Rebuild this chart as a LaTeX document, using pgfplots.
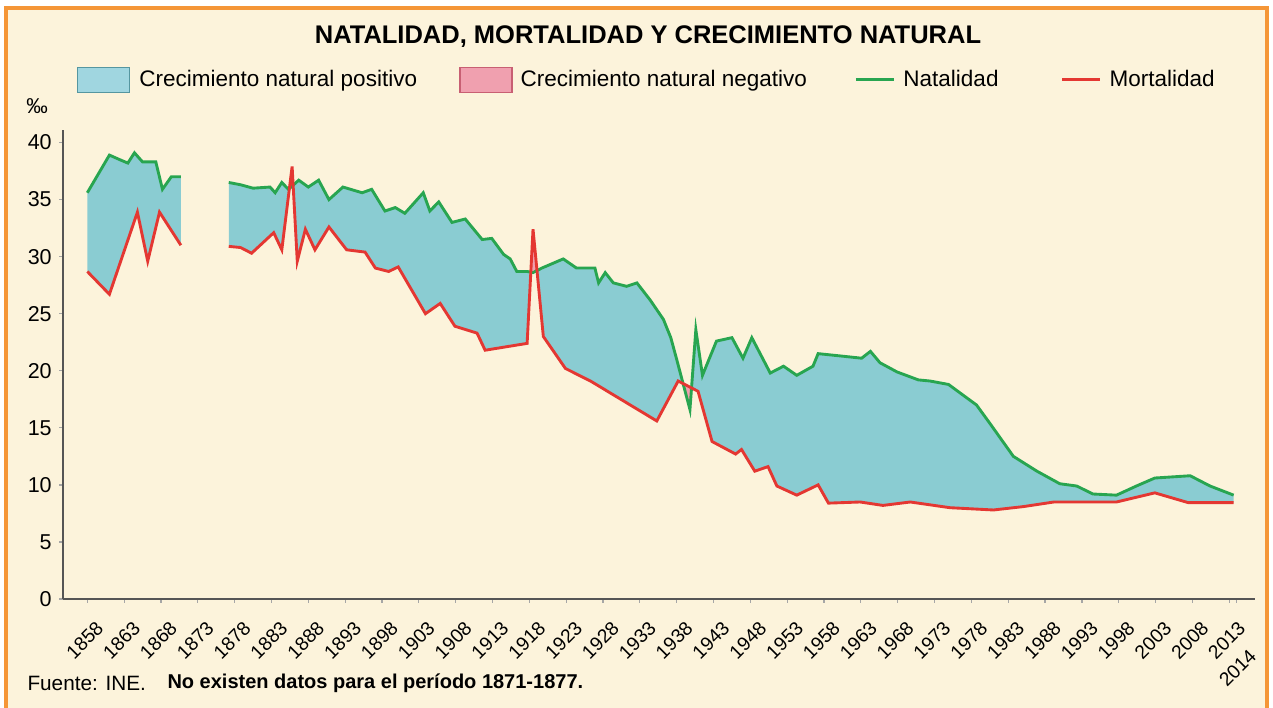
\documentclass[border=0pt]{standalone}
\usepackage{pgfplots}
\pgfplotsset{compat=1.18}
\usepgfplotslibrary{fillbetween}
\usepackage{pgfplotstable}
\usepackage{fontspec}
\setmainfont{Liberation Sans}

\definecolor{bgcream}{RGB}{252,243,219}
\definecolor{frameorange}{RGB}{245,150,55}
\definecolor{natgreen}{RGB}{40,165,80}
\definecolor{morred}{RGB}{228,55,50}
\definecolor{posfill}{RGB}{138,204,210}
\definecolor{posleg}{RGB}{160,214,224}
\definecolor{posedge}{RGB}{85,150,160}
\definecolor{negfill}{RGB}{240,160,175}
\definecolor{negedge}{RGB}{200,95,115}
\definecolor{axisgray}{RGB}{85,85,85}

% Natalidad 1858-1870
\pgfplotstableread{
year val
1858.0 35.6
1861.0 38.9
1862.4 38.5
1863.5 38.2
1864.4 39.1
1865.5 38.3
1867.3 38.3
1868.2 35.9
1869.4 37.0
1870.7 37.0
}\natA
% Mortalidad 1858-1870
\pgfplotstableread{
year val
1858.0 28.7
1861.0 26.7
1864.8 33.9
1866.2 29.6
1867.8 33.9
1870.7 31.0
}\morA
% Natalidad 1878-2014
\pgfplotstableread{
year val
1877.2 36.5
1878.8 36.3
1880.5 36.0
1882.8 36.1
1883.5 35.6
1884.4 36.5
1885.3 35.9
1886.7 36.7
1888.0 36.1
1889.4 36.7
1890.8 35.0
1892.7 36.1
1895.3 35.6
1896.6 35.9
1898.4 34.0
1899.8 34.3
1901.1 33.8
1903.6 35.6
1904.5 34.0
1905.7 34.8
1907.5 33.0
1909.3 33.3
1911.6 31.5
1912.9 31.6
1914.5 30.2
1915.4 29.8
1916.3 28.7
1917.7 28.7
1918.5 28.6
1919.7 29.0
1922.6 29.8
1924.4 29.0
1926.9 29.0
1927.4 27.7
1928.3 28.6
1929.4 27.7
1931.2 27.4
1932.6 27.7
1934.4 26.2
1936.2 24.5
1937.2 22.9
1938.0 21.0
1939.8 16.6
1940.6 23.6
1941.5 19.6
1943.4 22.6
1945.5 22.9
1947.0 21.1
1948.2 22.9
1950.7 19.8
1952.5 20.4
1954.3 19.6
1956.5 20.4
1957.2 21.5
1960.2 21.3
1963.1 21.1
1964.3 21.7
1965.6 20.7
1967.9 19.9
1970.8 19.2
1972.4 19.1
1974.9 18.8
1978.7 17.0
1980.5 15.4
1983.7 12.5
1986.9 11.2
1990.0 10.1
1992.3 9.9
1994.5 9.2
1997.7 9.1
2000.4 9.9
2002.9 10.6
2007.7 10.8
2010.4 9.9
2013.6 9.1
}\natB
% Mortalidad 1878-2014
\pgfplotstableread{
year val
1877.2 30.9
1878.8 30.8
1880.3 30.3
1883.3 32.1
1884.4 30.6
1885.8 37.9
1886.5 29.6
1887.6 32.4
1888.9 30.6
1890.8 32.6
1893.2 30.6
1895.7 30.4
1897.1 29.0
1898.9 28.7
1900.2 29.1
1903.9 25.0
1905.9 25.9
1907.9 23.9
1910.9 23.3
1912.0 21.8
1917.7 22.4
1918.5 32.4
1919.9 23.0
1922.9 20.2
1926.3 19.1
1935.3 15.6
1938.2 19.1
1940.9 18.2
1942.8 13.8
1946.0 12.7
1946.8 13.1
1948.6 11.2
1950.4 11.6
1951.6 9.9
1954.3 9.1
1957.2 10.0
1958.6 8.4
1962.9 8.5
1966.0 8.2
1969.7 8.5
1975.1 8.0
1981.0 7.8
1985.1 8.1
1989.2 8.5
1997.7 8.5
2002.9 9.3
2007.4 8.45
2013.6 8.45
}\morB

\begin{document}
\pagecolor{bgcream}%
\begin{tikzpicture}
\fill[white] (0pt,0pt) rectangle (1.8pt,283.2pt);
\fill[white] (0pt,280.6pt) rectangle (509.2pt,283.2pt);
\fill[white] (507.4pt,0pt) rectangle (509.2pt,283.2pt);
\draw[frameorange, line width=1.6pt] (2.4pt,0pt) -- (2.4pt,280pt) -- (506.8pt,280pt) -- (506.8pt,0pt);
\node[font=\fontsize{10.2}{12}\selectfont\bfseries, inner sep=0pt] at (259.2pt,268.4pt) {NATALIDAD, MORTALIDAD Y CRECIMIENTO NATURAL};
\node[font=\fontsize{8.6}{10}\selectfont, inner sep=0pt] at (14.8pt,240.8pt) {‰};
\begin{axis}[
  at={(25.2pt,43.6pt)}, anchor=south west,
  scale only axis, width=476.8pt, height=187.6pt,
  xmin=1854.7, xmax=2016.5, ymin=0, ymax=41.1,
  axis lines=left,
  axis line style={-, axisgray, line width=0.8pt},
  xtick={1858,1863,...,2013},
  ytick={0,5,...,40},
  extra x ticks={2014},
  extra x tick style={xticklabel style={xshift=-6.9pt, yshift=-8.9pt}},
  tick align=outside, major tick length=1.6pt,
  tick style={black!35, line width=0.5pt},
  /pgf/number format/1000 sep={},
  /pgf/number format/assume math mode=true,
  xticklabel style={rotate=45, anchor=east, font=\fontsize{7.7}{9}\selectfont, inner sep=1pt, xshift=-1.5pt, yshift=-9.8pt},
  yticklabel style={font=\fontsize{8.6}{10}\selectfont, xshift=0.6pt},
  legend columns=4,
  legend style={at={(axis description cs:0.0117,1.1066)}, anchor=west,
    draw=none, fill=none, inner sep=0pt, outer sep=0pt,
    font=\fontsize{9}{11}\selectfont,
    nodes={inner sep=0pt},
    /tikz/column 1/.style={column sep=3.6pt},
    /tikz/column 2/.style={column sep=16.8pt},
    /tikz/column 3/.style={column sep=3.2pt},
    /tikz/column 4/.style={column sep=19pt},
    /tikz/column 5/.style={column sep=3.2pt},
    /tikz/column 6/.style={column sep=24.8pt},
    /tikz/column 7/.style={column sep=3.2pt}},
  legend cell align=left,
]
\addplot[name path=nA, natgreen, line width=1.15pt, forget plot] table[x=year,y=val]{\natA};
\addplot[name path=mA, morred, line width=1.15pt, forget plot] table[x=year,y=val]{\morA};
\addplot[name path=nB, natgreen, line width=1.15pt, forget plot] table[x=year,y=val]{\natB};
\addplot[name path=mB, morred, line width=1.15pt, forget plot] table[x=year,y=val]{\morB};
\addplot[posfill, forget plot] fill between[of=nA and mA];
\addplot[posfill, forget plot] fill between[of=nB and mB, split,
  every odd segment/.style={negfill}];

\addlegendimage{legend image code/.code={\draw[fill=posleg, draw=posedge, line width=0.6pt] (0pt,-5pt) rectangle (20.8pt,5pt);}}
\addlegendentry{Crecimiento natural positivo}
\addlegendimage{legend image code/.code={\draw[fill=negfill, draw=negedge, line width=0.6pt] (0pt,-5pt) rectangle (20.8pt,5pt);}}
\addlegendentry{Crecimiento natural negativo}
\addlegendimage{legend image code/.code={\draw[natgreen, line width=1.2pt] (0pt,0pt) -- (15.2pt,0pt);}}
\addlegendentry{Natalidad}
\addlegendimage{legend image code/.code={\draw[morred, line width=1.2pt] (0pt,0pt) -- (15.2pt,0pt);}}
\addlegendentry{Mortalidad}
\end{axis}
\node[anchor=west, inner sep=0pt, font=\fontsize{8.3}{10}\selectfont] at (10.8pt,10pt) {Fuente: INE.};
\node[anchor=west, inner sep=0pt, font=\fontsize{8}{10}\selectfont\bfseries] at (66.8pt,10pt) {No existen datos para el período 1871-1877.};
\pgfresetboundingbox
\path[use as bounding box] (0pt,0pt) rectangle (509.2pt,283.2pt);
\end{tikzpicture}%
\end{document}
